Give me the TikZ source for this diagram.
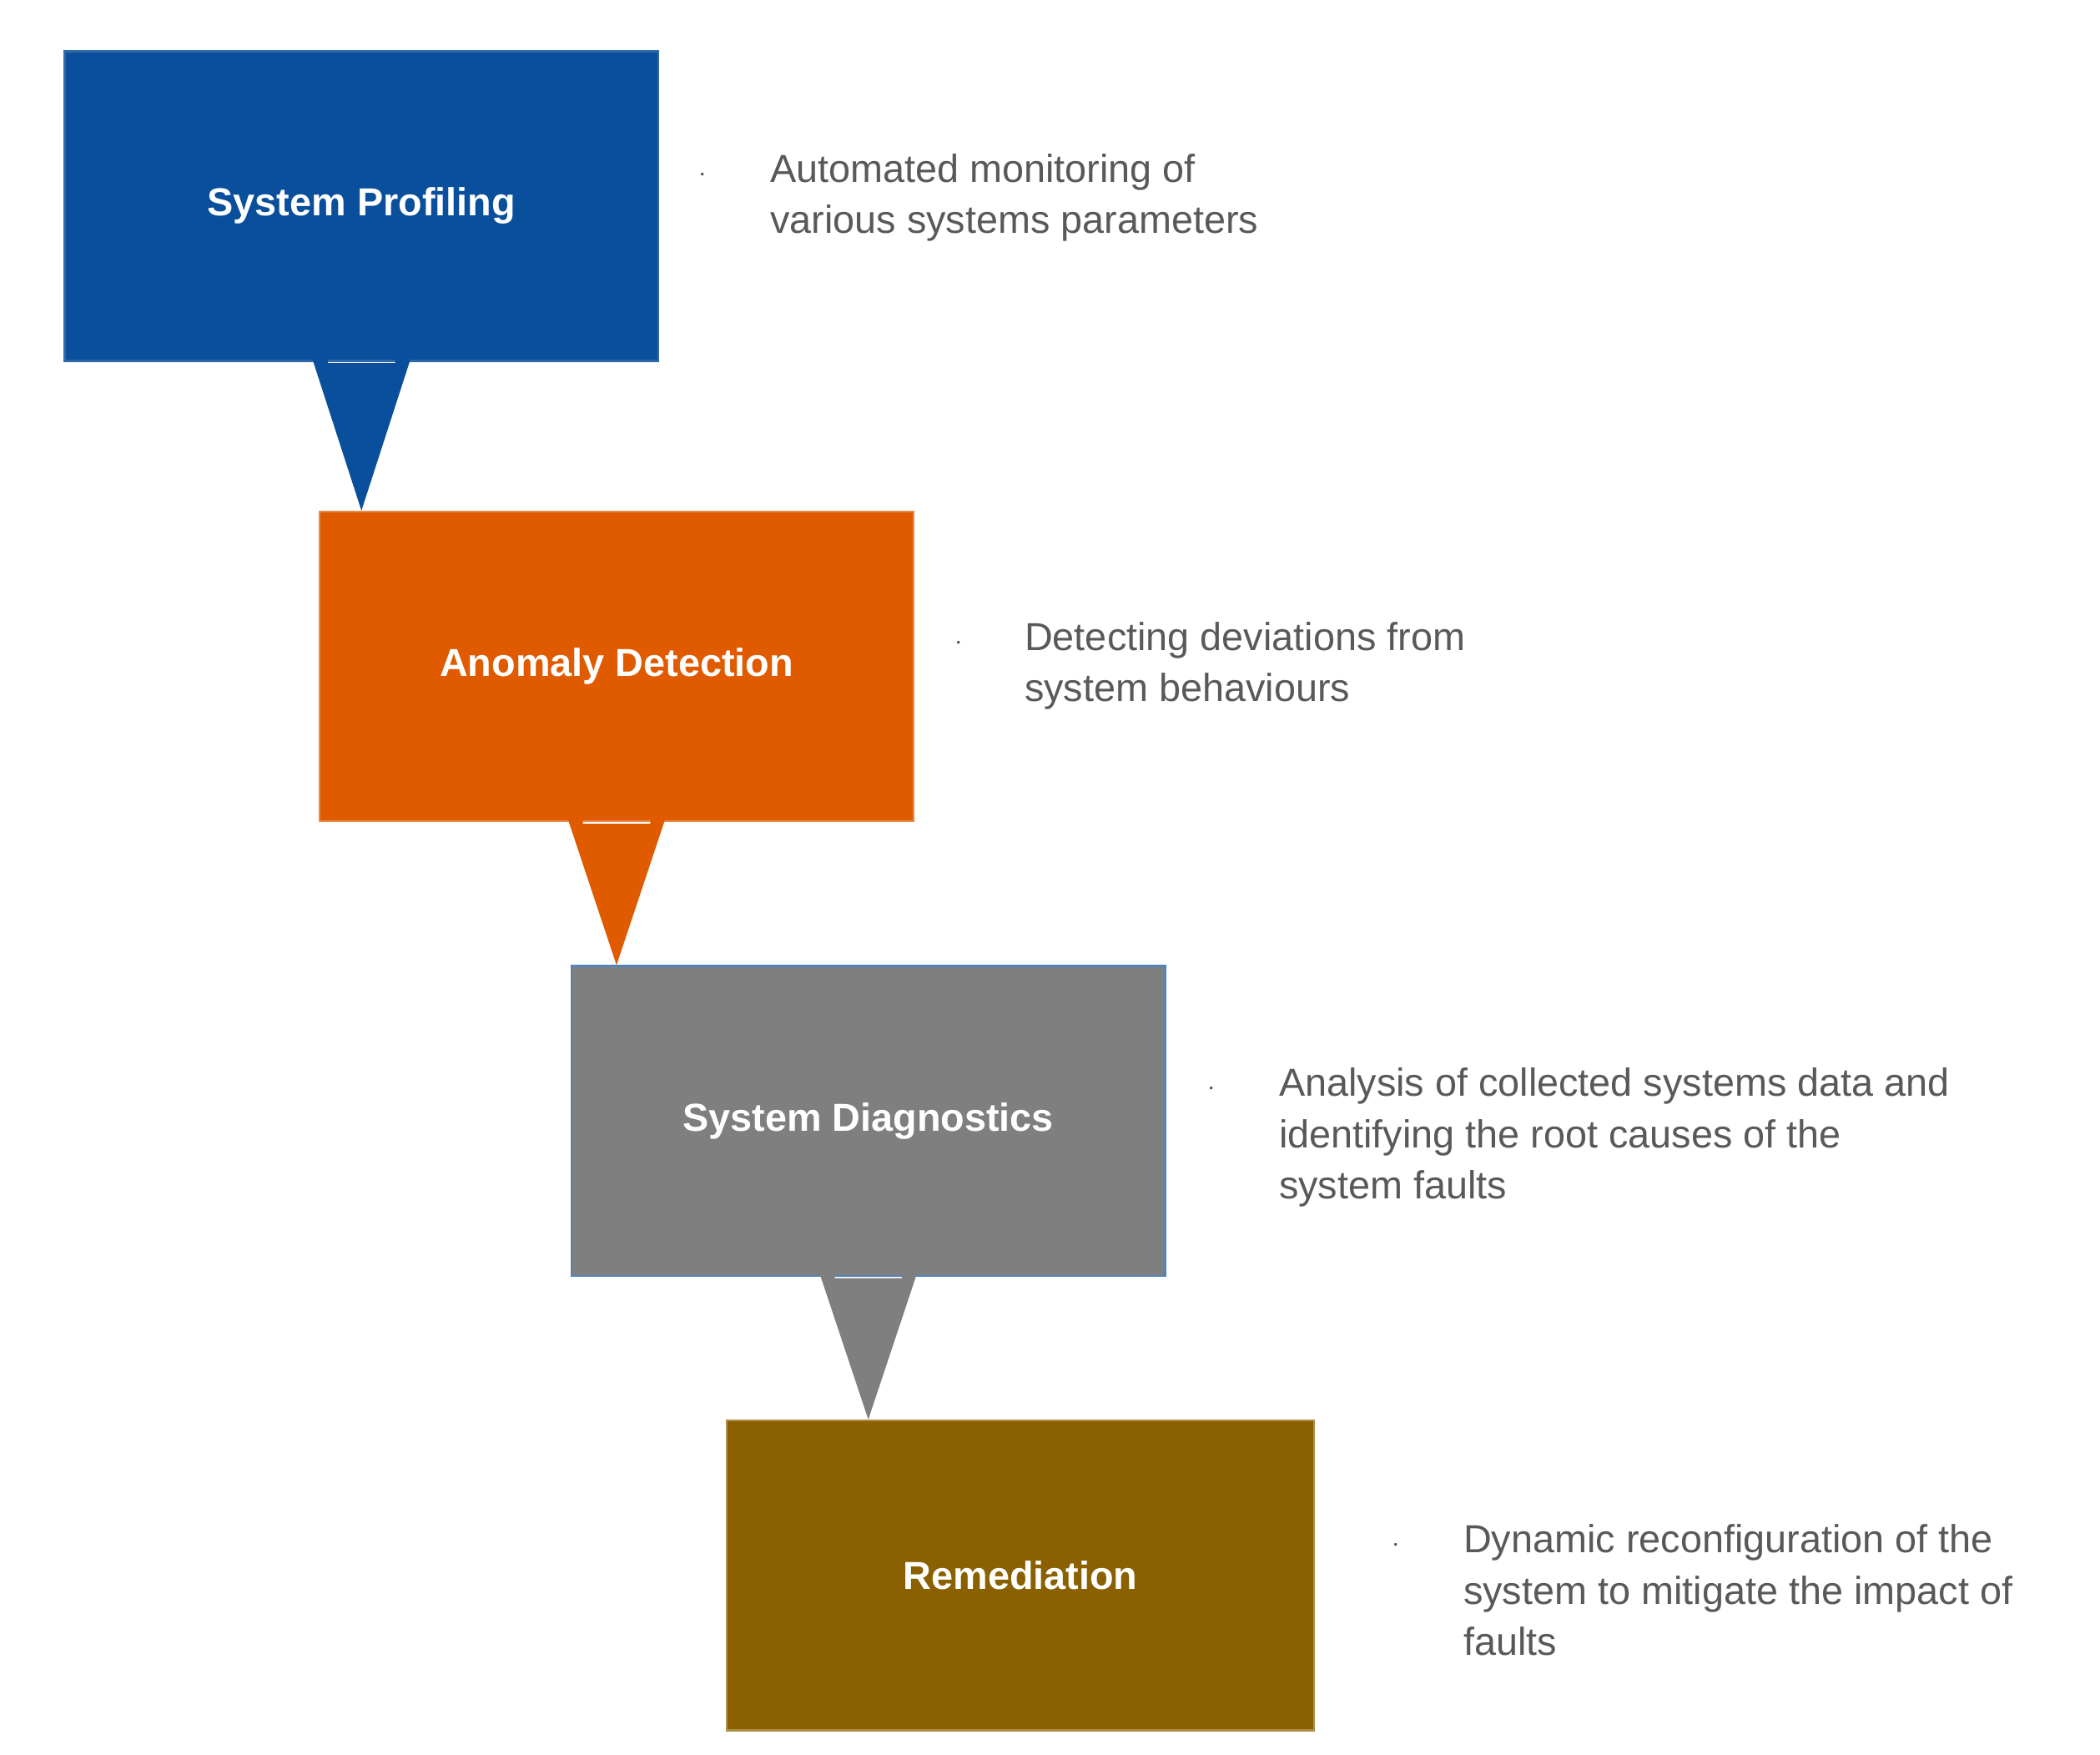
\documentclass[tikz,border=0pt]{standalone}
\usepackage{fontspec}
\setmainfont{Liberation Sans}
\usetikzlibrary{positioning,calc}
\definecolor{profblue}{HTML}{0A4F9B}
\definecolor{anomorange}{HTML}{E05A00}
\definecolor{diaggrey}{HTML}{7F7F7F}
\definecolor{remedbrown}{HTML}{8A6000}
\definecolor{desctext}{HTML}{595959}
\tikzset{
  stage/.style={rectangle,minimum width=441pt,minimum height=230pt,inner sep=0pt,
    text=white,font=\fontsize{29}{34}\selectfont\bfseries,line width=1.5pt},
  desc/.style={anchor=north west,align=left,text=desctext,inner sep=0pt,
    font=\fontsize{29}{38}\selectfont},
  dot/.style={text=desctext,inner sep=0pt,font=\fontsize{22}{22}\selectfont}
}
\newcommand{\stagearrow}[3]{%
  \fill[#3] ($(#1.south)+(-25,1)$) -- ($(#1.south)+(25,1)$) -- ($(#1.south)+(25,-44)$)
    -- ($(#1.south)+(50,-44)$) -- (#1.south |- #2.north) -- ($(#1.south)+(-50,-44)$)
    -- ($(#1.south)+(-25,-44)$) -- cycle;}
\begin{document}
\begin{tikzpicture}[x=1pt,y=-1pt]
\useasboundingbox[fill=white] (0,0) rectangle (1560,1303);
\node(prof) at (268.5,153)[stage,fill=profblue,draw=profblue!85!white]   {System Profiling};
\node(anom) at (458,495)[stage,fill=anomorange,draw=anomorange!70!white] {Anomaly Detection};
\node(diag) at (645,832.5)[stage,fill=diaggrey,draw=profblue!70!white]   {System Diagnostics};
\node(remd) at (758,1170)[stage,minimum width=436pt,fill=remedbrown,draw=remedbrown!70!white] {Remediation};
\stagearrow{prof}{anom}{profblue}
\stagearrow{anom}{diag}{anomorange}
\stagearrow{diag}{remd}{diaggrey}
% descriptions
\node[dot] at (522,130) {$\cdot$};
\node[desc](dprof) at (572,114) {Automated monitoring of\\various systems parameters};
\node[dot] at (712,478) {$\cdot$};
\node[desc](danom) at (761,462) {Detecting deviations from\\system behaviours};
\node[dot] at (900,809) {$\cdot$};
\node[desc](ddiag) at (950,793) {Analysis of collected systems data and\\identifying the root causes of the\\system faults};
\node[dot] at (1037,1148) {$\cdot$};
\node[desc](dremd) at (1087,1132) {Dynamic reconfiguration of the\\system to mitigate the impact of\\faults};
\end{tikzpicture}
\end{document}
